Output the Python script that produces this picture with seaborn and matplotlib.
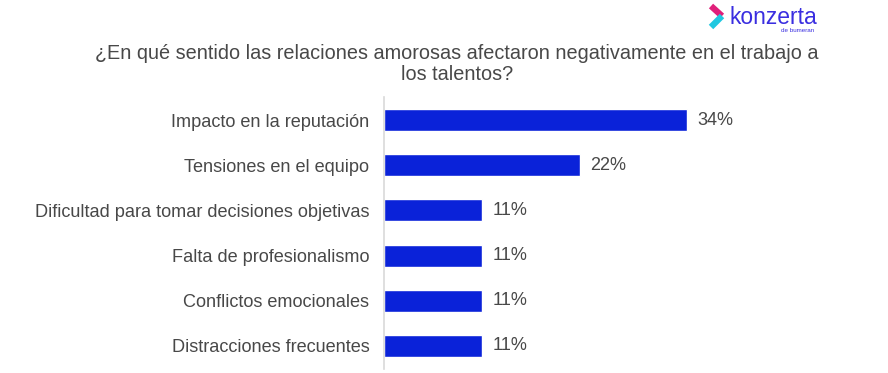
import matplotlib
matplotlib.use('Agg')
import matplotlib.pyplot as plt
import seaborn as sns
import pandas as pd
from matplotlib.lines import Line2D

# datos
categorias = ['Impacto en la reputación', 'Tensiones en el equipo',
              'Dificultad para tomar decisiones objetivas', 'Falta de profesionalismo',
              'Conflictos emocionales', 'Distracciones frecuentes']
valores = [34, 22, 11, 11, 11, 11]
etiquetas = ['34%', '22%', '11%', '11%', '11%', '11%']
titulo = '¿En qué sentido las relaciones amorosas afectaron negativamente en el trabajo a\nlos talentos?'

sns.set_style('white')
plt.rcParams['font.family'] = ['Liberation Sans', 'DejaVu Sans']

df = pd.DataFrame({'cat': categorias, 'val': valores})

fig = plt.figure(figsize=(8.88, 3.73), dpi=100)
ax = fig.add_axes([384/888, 1-368.6/373, 356/888, 271.2/373])
sns.barplot(data=df, x='val', y='cat', color='#0A22D9', width=0.49, ax=ax, saturation=1)
ax.set_xlim(0, 40)
ax.set_ylim(5.5, -0.5)
ax.set_xlabel('')
ax.set_ylabel('')
ax.set_xticks([])
ax.tick_params(axis='y', length=0, pad=10.5, labelsize=13.1, labelcolor='#484848')
for s in ['top', 'right', 'bottom']:
    ax.spines[s].set_visible(False)
ax.spines['left'].set_color('#d9d9d9')
ax.spines['left'].set_linewidth(1.2)

for i, (v, t) in enumerate(zip(valores, etiquetas)):
    ax.text(v + 1.2, i, t, va='center', ha='left', fontsize=13.1, color='#484848')

fig.text(457/888, 1-64/373, titulo, ha='center', va='center', fontsize=14.3,
         color='#484848', linespacing=1.18, multialignment='center')

# logo
fig.add_artist(Line2D([711/888, 722/888], [1-6/373, 1-16/373], color='#e0207a', lw=4.5, solid_capstyle='butt'))
fig.add_artist(Line2D([722/888, 711/888], [1-16/373, 1-27/373], color='#20c8e0', lw=4.5, solid_capstyle='butt'))
fig.text(729/888, 1-17/373, 'konzerta', ha='left', va='center', fontsize=16.5, color='#3a2ee0')
fig.text(814/888, 1-30/373, 'de bumeran', ha='right', va='center', fontsize=4.5, color='#3a2ee0')

fig.savefig('out.png', dpi=100)
